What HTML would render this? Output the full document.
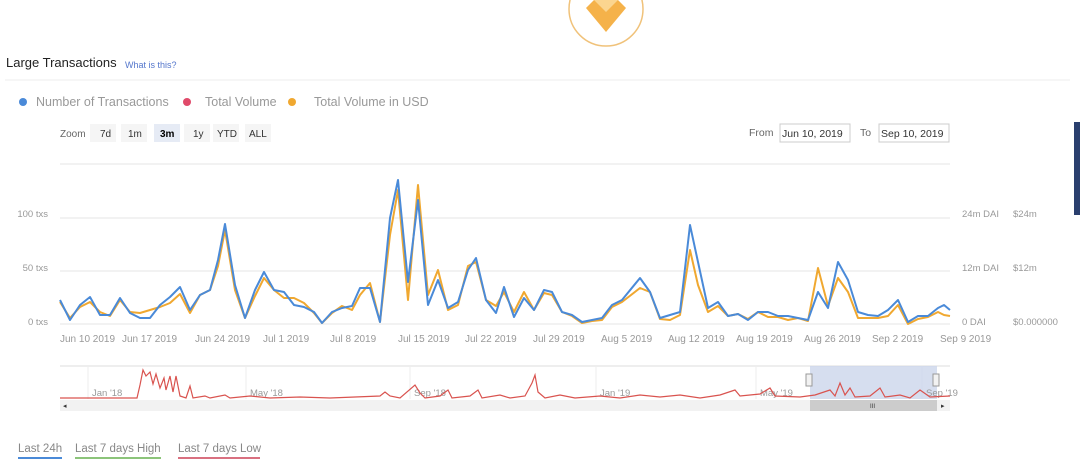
<!DOCTYPE html>
<html><head><meta charset="utf-8"><style>
body{margin:0;width:1080px;height:460px;background:#fff;overflow:hidden;font-family:"Liberation Sans",sans-serif;}
svg{position:absolute;left:0;top:0}
</style></head><body>
<svg width="1080" height="460" viewBox="0 0 1080 460" font-family="Liberation Sans, sans-serif">
<circle cx="606" cy="9" r="37" fill="none" stroke="#f0c27a" stroke-width="1.5"/>
<polygon points="586,8 606,32 626,8 618,0 594,0" fill="#f5b24a"/>
<polygon points="594,0 606,12 618,0" fill="#fbd58f"/>
<text x="6" y="67" font-size="13" fill="#222">Large Transactions</text>
<text x="125" y="68" font-size="9" fill="#5577cc">What is this?</text>
<line x1="5" y1="80" x2="1070" y2="80" stroke="#eee"/>
<circle cx="23" cy="102" r="4" fill="#4a8ad8"/>
<text x="36" y="106" font-size="12.5" fill="#999">Number of Transactions</text>
<circle cx="187" cy="102" r="4" fill="#e04a6a"/>
<text x="205" y="106" font-size="12.5" fill="#999">Total Volume</text>
<circle cx="292" cy="102" r="4" fill="#f0a830"/>
<text x="314" y="106" font-size="12.5" fill="#999">Total Volume in USD</text>
<text x="60" y="137" font-size="10" fill="#666">Zoom</text>
<rect x="90" y="124" width="26" height="18" fill="#f5f5f5"/><text x="100" y="137" font-size="10" fill="#333">7d</text>
<rect x="121" y="124" width="26" height="18" fill="#f5f5f5"/><text x="128" y="137" font-size="10" fill="#333">1m</text>
<rect x="154" y="124" width="26" height="18" fill="#e6ebf5"/><text x="160" y="137" font-size="10" font-weight="bold" fill="#000">3m</text>
<rect x="184" y="124" width="26" height="18" fill="#f5f5f5"/><text x="193" y="137" font-size="10" fill="#333">1y</text>
<rect x="213" y="124" width="26" height="18" fill="#f5f5f5"/><text x="217" y="137" font-size="10" fill="#333">YTD</text>
<rect x="245" y="124" width="26" height="18" fill="#f5f5f5"/><text x="249" y="137" font-size="10" fill="#333">ALL</text>
<text x="749" y="136" font-size="10.5" fill="#666">From</text>
<rect x="780" y="124" width="70" height="18" fill="#fff" stroke="#ccc"/><text x="782" y="137" font-size="10.5" fill="#333">Jun 10, 2019</text>
<text x="860" y="136" font-size="10.5" fill="#666">To</text>
<rect x="879" y="124" width="70" height="18" fill="#fff" stroke="#ccc"/><text x="881" y="137" font-size="10.5" fill="#333">Sep 10, 2019</text>
<rect x="1074" y="122" width="6" height="93" fill="#2a3f6e"/>
<g stroke="#e6e6e6"><line x1="60" y1="164" x2="950" y2="164"/><line x1="60" y1="218" x2="950" y2="218"/><line x1="60" y1="271" x2="950" y2="271"/><line x1="60" y1="324" x2="950" y2="324"/></g>
<g font-size="9.5" fill="#999">
<text x="48" y="217" text-anchor="end">100 txs</text>
<text x="48" y="271" text-anchor="end">50 txs</text>
<text x="48" y="325" text-anchor="end">0 txs</text>
<text x="962" y="217">24m DAI</text><text x="1013" y="217">$24m</text>
<text x="962" y="271">12m DAI</text><text x="1013" y="271">$12m</text>
<text x="962" y="325">0 DAI</text><text x="1013" y="325">$0.000000</text>
</g>
<g font-size="10" fill="#999">
<text x="60" y="342">Jun 10 2019</text><text x="122" y="342">Jun 17 2019</text><text x="195" y="342">Jun 24 2019</text>
<text x="263" y="342">Jul 1 2019</text><text x="330" y="342">Jul 8 2019</text><text x="398" y="342">Jul 15 2019</text>
<text x="465" y="342">Jul 22 2019</text><text x="533" y="342">Jul 29 2019</text><text x="601" y="342">Aug 5 2019</text>
<text x="668" y="342">Aug 12 2019</text><text x="736" y="342">Aug 19 2019</text><text x="804" y="342">Aug 26 2019</text>
<text x="872" y="342">Sep 2 2019</text><text x="940" y="342">Sep 9 2019</text>
</g>
<polyline fill="none" stroke="#f0a830" stroke-width="2" stroke-linejoin="round" points="60,302 70,318 80,307 90,302 100,312 110,316 120,300 130,312 140,313 150,310 160,307 170,303 180,294 190,313 200,295 210,290 218,266 225,230 235,290 245,318 255,296 264,278 274,290 284,298 294,298 304,303 314,313 322,323 332,313 342,306 352,310 360,295 370,283 380,322 390,235 398,190 408,300 418,185 428,295 438,270 448,310 458,305 468,266 476,262 486,300 496,306 504,292 514,312 524,292 534,310 544,293 552,295 562,312 572,316 582,323 592,321 602,320 612,307 622,302 640,288 650,292 660,319 670,320 680,315 690,250 698,285 708,312 718,306 728,316 738,314 748,319 758,312 768,317 778,317 788,320 798,318 808,321 818,268 828,306 838,278 848,292 858,318 868,318 878,318 888,316 898,305 908,324 918,319 928,317 938,312 944,315 950,316"/>
<polyline fill="none" stroke="#4a8ad8" stroke-width="2" stroke-linejoin="round" points="60,300 70,320 80,305 90,297 100,315 110,315 120,298 130,313 140,318 150,318 160,305 170,297 180,287 190,310 200,295 210,290 218,260 225,224 235,285 245,318 255,290 264,272 274,290 284,292 294,305 304,307 314,312 322,323 332,312 342,308 352,306 360,288 370,288 380,322 390,218 398,180 408,282 418,200 428,305 438,280 448,308 458,302 468,270 476,258 486,300 496,313 504,287 514,317 524,298 534,310 544,290 552,292 562,312 572,315 582,322 592,320 602,318 612,305 622,300 640,278 650,292 660,318 670,315 680,312 690,225 698,262 708,308 718,302 728,316 738,314 748,320 758,312 768,312 778,316 788,316 798,318 808,320 818,292 828,308 838,262 848,280 858,312 868,315 878,316 888,310 898,300 908,322 918,316 928,316 938,308 944,305 950,310"/>
<line x1="60" y1="366" x2="950" y2="366" stroke="#ddd"/>
<g stroke="#eee"><line x1="88" y1="366" x2="88" y2="399"/><line x1="246" y1="366" x2="246" y2="399"/><line x1="410" y1="366" x2="410" y2="399"/><line x1="596" y1="366" x2="596" y2="399"/><line x1="756" y1="366" x2="756" y2="399"/><line x1="922" y1="366" x2="922" y2="399"/></g>
<rect x="810" y="366" width="127" height="33" fill="#ccd6eb" opacity="0.8"/>
<g font-size="9.5" fill="#999"><text x="92" y="396">Jan '18</text><text x="250" y="396">May '18</text><text x="414" y="396">Sep '18</text><text x="600" y="396">Jan '19</text><text x="760" y="396">May '19</text><text x="926" y="396">Sep '19</text></g>
<polyline fill="none" stroke="#d9534f" stroke-width="1.2" points="60,398 137,398 140,385 143,370 146,376 150,372 153,384 156,374 160,388 164,378 166,390 170,376 173,392 176,376 180,396 186,398 190,386 193,398 205,396 210,398 225,395 230,398 250,396 270,398 300,397 330,398 380,396 385,392 390,396 400,398 415,385 420,393 425,398 440,396 448,390 452,398 470,396 478,390 482,398 500,395 510,398 525,396 532,383 535,375 538,392 545,398 560,395 575,398 600,396 620,398 640,395 660,397 680,395 700,398 720,395 735,390 740,396 760,394 770,388 775,396 800,397 815,395 830,390 835,396 840,383 845,395 850,388 855,397 870,396 880,388 885,397 900,395 910,398 920,390 930,397 950,396"/>
<rect x="806" y="374" width="6" height="12" fill="#f2f2f2" stroke="#999"/>
<rect x="933" y="374" width="6" height="12" fill="#f2f2f2" stroke="#999"/>
<rect x="60" y="400" width="890" height="11" fill="#f2f2f2"/>
<rect x="810" y="400" width="127" height="11" fill="#cccccc"/>
<text x="870" y="408" font-size="6" fill="#333">III</text>
<text x="63" y="408" font-size="7" fill="#333">◂</text>
<text x="941" y="408" font-size="7" fill="#333">▸</text>
<text x="18" y="452" font-size="11.5" fill="#888">Last 24h</text>
<rect x="18" y="457" width="44" height="2" fill="#4a8ad8"/>
<text x="75" y="452" font-size="11.5" fill="#888">Last 7 days High</text>
<rect x="75" y="457" width="86" height="2" fill="#8cc47a"/>
<text x="178" y="452" font-size="11.5" fill="#888">Last 7 days Low</text>
<rect x="178" y="457" width="82" height="2" fill="#d97080"/>
</svg>
</body></html>
